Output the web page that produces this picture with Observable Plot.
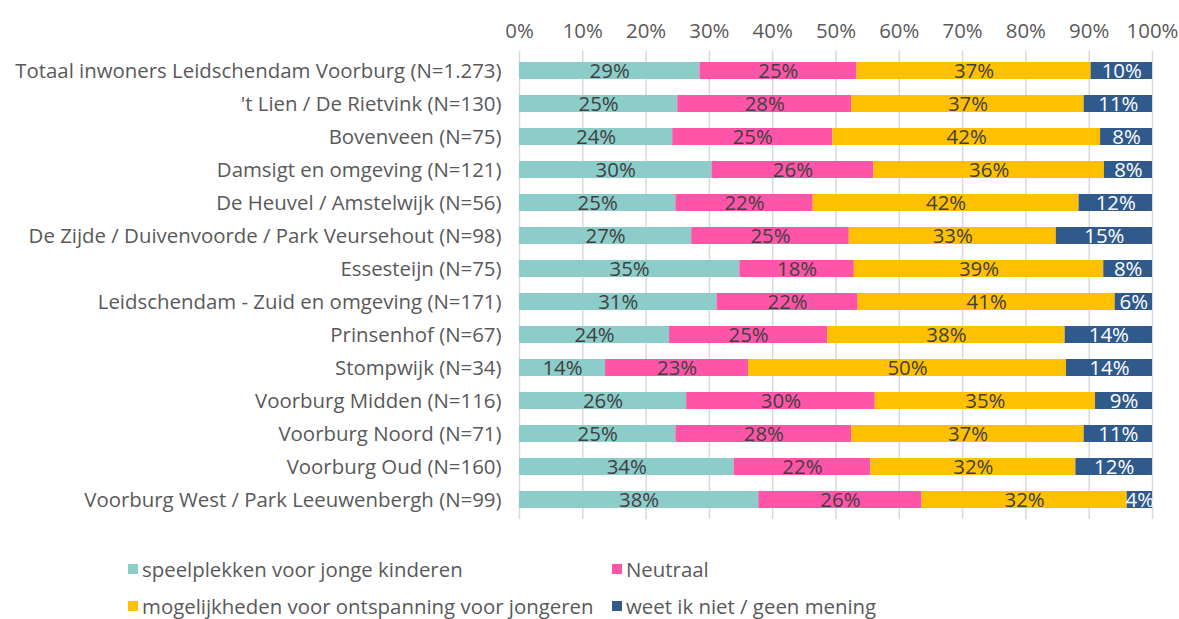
<!DOCTYPE html>
<html>
<head>
<meta charset="utf-8">
<script src="https://cdn.jsdelivr.net/npm/d3@7"></script>
<script src="https://cdn.jsdelivr.net/npm/@observablehq/plot@0.6"></script>
<style>
  body { margin: 0; background: #fff; font-family: "Open Sans", sans-serif; }
  #legend { position: relative; height: 84px; font-size: 20.4px; color: #595959; }
  .item { position: absolute; display: flex; align-items: center; white-space: nowrap; }
  .sw { width: 10px; height: 10px; margin-right: 4px; }
</style>
</head>
<body>
<div id="chart"></div>
<div id="legend"></div>
<script>
const areas = [
  "Totaal inwoners Leidschendam Voorburg (N=1.273)",
  "'t Lien / De Rietvink (N=130)",
  "Bovenveen (N=75)",
  "Damsigt en omgeving (N=121)",
  "De Heuvel / Amstelwijk (N=56)",
  "De Zijde / Duivenvoorde / Park Veursehout (N=98)",
  "Essesteijn (N=75)",
  "Leidschendam - Zuid en omgeving (N=171)",
  "Prinsenhof (N=67)",
  "Stompwijk (N=34)",
  "Voorburg Midden (N=116)",
  "Voorburg Noord (N=71)",
  "Voorburg Oud (N=160)",
  "Voorburg West / Park Leeuwenbergh (N=99)"
];
const series = [
  "speelplekken voor jonge kinderen",
  "Neutraal",
  "mogelijkheden voor ontspanning voor jongeren",
  "weet ik niet / geen mening"
];
const colors = ["#8ccdca", "#ff55a8", "#ffc000", "#305a8c"];
const speelplekken = [28.5, 25.0, 24.2, 30.4, 24.7, 27.2, 34.8, 31.2, 23.7, 13.6, 26.4, 24.7, 33.9, 37.8];
const neutraal     = [24.8, 27.5, 25.3, 25.6, 21.7, 24.9, 18.1, 22.3, 25.0, 22.6, 29.8, 27.8, 21.6, 25.8];
const jongeren     = [37.0, 36.7, 42.3, 36.4, 42.0, 32.7, 39.4, 40.6, 37.5, 50.2, 34.8, 36.7, 32.4, 32.4];
const weetniet     = [ 9.7, 10.8,  8.2,  7.6, 11.6, 15.2,  7.7,  5.9, 13.8, 13.6,  9.0, 10.8, 12.1,  4.0];
const xTicks = [0, 10, 20, 30, 40, 50, 60, 70, 80, 90, 100];

const valueSets = [speelplekken, neutraal, jongeren, weetniet];
const data = [];
areas.forEach((a, i) => {
  series.forEach((s, j) => data.push({area: a, cat: s, value: valueSets[j][i]}));
});

const font = "'Open Sans', sans-serif";
const fs = 20.4;
const chart = Plot.plot({
  width: 1179,
  height: 535,
  marginTop: 51,
  marginBottom: 16,
  marginLeft: 519,
  marginRight: 27,
  style: {fontFamily: font, fontSize: fs + "px", color: "#595959", background: "#fff"},
  x: {domain: [0, 100], axis: null, label: null},
  y: {domain: areas, paddingInner: 0.5, paddingOuter: 0.25, axis: null, label: null},
  color: {domain: series, range: colors},
  marks: [
    Plot.ruleX(xTicks, {stroke: "#d9d9d9", strokeWidth: 1.5}),
    Plot.axisX(xTicks, {anchor: "top", tickSize: 0, tickPadding: 14, label: null, tickFormat: d => d + "%", fill: "#595959", fontSize: fs}),
    Plot.axisY({anchor: "left", tickSize: 0, tickPadding: 18, label: null, fill: "#595959", fontSize: fs}),
    Plot.barX(data, Plot.stackX({x: "value", y: "area", fill: "cat", order: series})),
    Plot.text(data, Plot.stackX({
      x: "value", y: "area", z: "cat", order: series,
      text: d => Math.round(d.value) + "%",
      fill: d => d.cat === series[3] ? "#ffffff" : "#404040",
      fontSize: fs
    }))
  ]
});
document.getElementById("chart").appendChild(chart);

const legend = document.getElementById("legend");
const pos = [[128, 20], [612, 20], [128, 57], [612, 57]];
series.forEach((s, j) => {
  const it = document.createElement("div");
  it.className = "item";
  it.style.left = pos[j][0] + "px";
  it.style.top = pos[j][1] + "px";
  it.innerHTML = `<span class="sw" style="background:${colors[j]}"></span><span>${s}</span>`;
  legend.appendChild(it);
});
</script>
</body>
</html>
